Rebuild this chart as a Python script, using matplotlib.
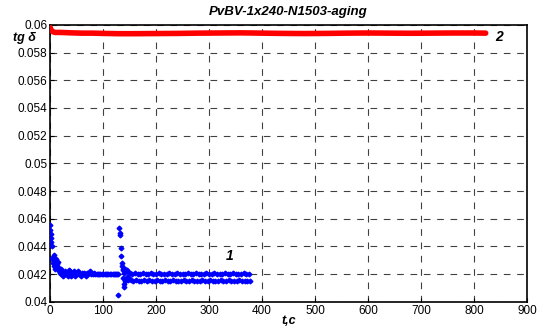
import matplotlib
matplotlib.use('Agg')
import matplotlib.pyplot as plt

plt.rcParams['font.family'] = ['Liberation Sans', 'DejaVu Sans']

# series 1 (blue points), start of test
t_early = [0, 0.5, 1, 1.5, 2, 3, 4, 5, 6, 7,
           8, 9, 10, 11, 12, 13, 14, 15, 16, 17,
           18, 19, 20, 21, 22, 24, 25, 27, 28, 30,
           32, 33, 35, 36, 38, 40, 42, 44, 45, 47,
           48, 50, 52, 54, 55, 57, 58, 60, 62, 64,
           65, 67, 70, 72, 75, 77, 80, 82, 85, 88,
           90, 93, 95, 98, 100, 103, 105, 108, 110, 113,
           115, 118, 120, 122, 125, 127]
y_early = [0.04555, 0.0452, 0.0449, 0.0446, 0.0443, 0.0440, 0.0432, 0.0430, 0.0428, 0.0434,
           0.0426, 0.0429, 0.0424, 0.0431, 0.0428, 0.0427, 0.0425, 0.0429, 0.0423, 0.0422,
           0.0421, 0.0423, 0.0424, 0.0420, 0.0422, 0.0419, 0.0421, 0.0420, 0.0422, 0.0420,
           0.0421, 0.0419, 0.0423, 0.0420, 0.0422, 0.0419, 0.0421, 0.0420, 0.0422, 0.0419,
           0.0421, 0.0420, 0.0422, 0.0420, 0.0421, 0.0420, 0.0419, 0.0421, 0.0420, 0.0421,
           0.0420, 0.0419, 0.0421, 0.0420, 0.0422, 0.0420, 0.0420, 0.0421, 0.0420, 0.0420,
           0.0420, 0.0420, 0.0420, 0.0420, 0.0420, 0.0420, 0.0420, 0.0420, 0.0420, 0.0420,
           0.0420, 0.0420, 0.0420, 0.0420, 0.0420, 0.0420]

# disturbance around t = 130
t_spike = [128, 129, 130, 131, 132, 133, 134, 135, 136, 137,
           138, 138, 139, 140, 140, 141, 142, 143, 144, 145,
           146, 147, 148, 149]
y_spike = [0.0405, 0.0420, 0.0453, 0.0450, 0.0448, 0.0439, 0.0433, 0.0428, 0.0426, 0.0424,
           0.0417, 0.0423, 0.0413, 0.0411, 0.0421, 0.0415, 0.0424, 0.0416, 0.0422, 0.0418,
           0.0423, 0.0416, 0.0421, 0.0417]

# two bands after t = 150
t_upper = [150, 155, 160, 165, 170, 175, 180, 185, 190, 195,
           200, 205, 210, 215, 220, 225, 230, 235, 240, 245,
           250, 255, 260, 265, 270, 275, 280, 285, 290, 295,
           300, 305, 310, 315, 320, 325, 330, 335, 340, 345,
           350, 355, 360, 365, 370, 375]
y_upper = [0.0421, 0.0420, 0.0421, 0.0420, 0.0420, 0.0421, 0.0420, 0.0420, 0.0421, 0.0420,
           0.0420, 0.0421, 0.0420, 0.0420, 0.0420, 0.0421, 0.0420, 0.0420, 0.0421, 0.0420,
           0.0420, 0.0420, 0.0421, 0.0420, 0.0420, 0.0421, 0.0420, 0.0420, 0.0420, 0.0421,
           0.0420, 0.0420, 0.0421, 0.0420, 0.0420, 0.0420, 0.0421, 0.0420, 0.0420, 0.0421,
           0.0420, 0.0420, 0.0420, 0.0421, 0.0420, 0.0420]
t_lower = [152, 157, 162, 167, 172, 177, 182, 187, 192, 197,
           202, 207, 212, 217, 222, 227, 232, 237, 242, 247,
           252, 257, 262, 267, 272, 277, 282, 287, 292, 297,
           302, 307, 312, 317, 322, 327, 332, 337, 342, 347,
           352, 357, 362, 367, 372, 377]
y_lower = [0.0416, 0.0415, 0.0416, 0.0415, 0.0415, 0.0416, 0.0415, 0.0416, 0.0415, 0.0415,
           0.0416, 0.0415, 0.0415, 0.0416, 0.0415, 0.0415, 0.0416, 0.0415, 0.0415, 0.0415,
           0.0416, 0.0415, 0.0415, 0.0416, 0.0415, 0.0415, 0.0415, 0.0416, 0.0415, 0.0415,
           0.0416, 0.0415, 0.0415, 0.0415, 0.0416, 0.0415, 0.0415, 0.0416, 0.0415, 0.0415,
           0.0415, 0.0416, 0.0415, 0.0415, 0.0415, 0.0415]

# series 2 (red)
t2 = [0, 2, 5, 10, 20, 40, 60, 80, 100, 130, 160, 200, 240, 280, 320,
      360, 400, 440, 480, 520, 560, 600, 640, 680, 720, 760, 800, 822]
y2 = [0.05980, 0.05960, 0.05950, 0.05945, 0.05945, 0.05942, 0.05940,
      0.05940, 0.05938, 0.05936, 0.05936, 0.05937, 0.05938, 0.05940,
      0.05941, 0.05942, 0.05940, 0.05938, 0.05937, 0.05938, 0.05940,
      0.05941, 0.05940, 0.05939, 0.05940, 0.05941, 0.05941, 0.05940]

fig = plt.figure(figsize=(5.45, 3.31), dpi=100)
ax = fig.add_axes([0.092, 0.088, 0.875, 0.837])

ax.plot(t2, y2, color='red', lw=4, solid_capstyle='round', zorder=3)
for tt, yy in [(t_early, y_early), (t_spike, y_spike),
               (t_upper, y_upper), (t_lower, y_lower)]:
    ax.plot(tt, yy, ls='none', marker='D', ms=2.4, color='blue', zorder=4)

ax.set_xlim(0, 900)
ax.set_ylim(0.04, 0.06)
ax.set_xticks(range(0, 901, 100))
ax.set_yticks([0.04 + 0.002 * i for i in range(11)])
ax.set_yticklabels(['0.04', '0.042', '0.044', '0.046', '0.048', '0.05',
                    '0.052', '0.054', '0.056', '0.058', '0.06'])
ax.tick_params(labelsize=8.5, direction='in', length=3, pad=2)
ax.grid(True, color='black', ls=(0, (6, 6)), lw=0.8, alpha=0.75)
for s in ax.spines.values():
    s.set_linewidth(1.2)

ax.set_title('PvBV-1x240-N1503-aging', fontsize=9.5, fontweight='bold',
             style='italic', pad=7)
ax.text(-0.077, 0.952, 'tg δ', transform=ax.transAxes, va='center',
        fontsize=9, fontweight='bold', style='italic')
ax.set_xlabel('t,c', fontsize=9, fontweight='bold', style='italic', labelpad=-1)
ax.text(332, 0.0430, '1', fontsize=10, fontweight='bold', style='italic')
ax.text(840, 0.0588, '2', fontsize=10, fontweight='bold', style='italic')

fig.savefig('out.png', dpi=100)
